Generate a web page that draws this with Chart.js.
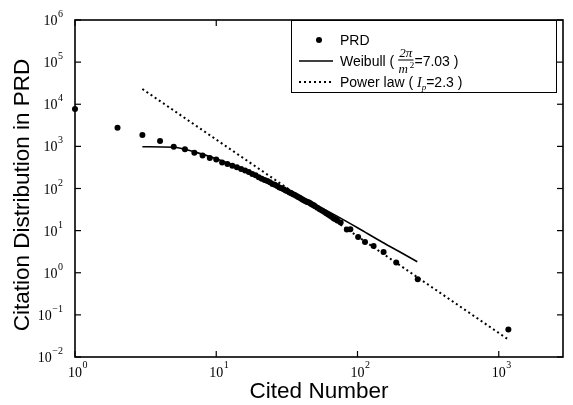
<!DOCTYPE html>
<html><head><meta charset="utf-8">
<script src="https://cdn.jsdelivr.net/npm/chart.js@4.4.1/dist/chart.umd.min.js"></script>
<style>html,body{margin:0;padding:0;background:#fff}canvas{display:block}</style>
</head><body>
<canvas id="c" width="573" height="405"></canvas>
<script>
// ---- data ----
const citedNumber = [1,2,3,4,5,6,7,8,9,10,11,12,13,14,15,16,17,18,19,20,21,22,23,24,25,26,27,28,29,30,31,32,33,34,35,36,37,38,39,40,41,42,43,44,45,46,47,48,49,50,52,54,56,58,60,62,64,66,68,70,72,76,84,89,101,113,130,153,188,267,1170];
const citationCount = [7700,2770,1850,1340,975,850,705,611,527,490,417,383,347,318,290,268,245,222,205,185,170,160,150,140,128,122,115,106,102,96,90,86,80,77,73,70,66,63,60,57,54,52,50,48,47,45,43,41,40,38,35,32,30,28,26,24,22.5,21,19.5,18.5,17.5,15.5,10.7,10.8,7.1,5.4,4.3,3.1,1.76,0.70,0.045];
const weibullX = [3,5,7,10,15,20,30,40,50,70,100,150,200,265];
const weibullY = [980,955,740,510,300,190,100,62,42,23,11.7,5.3,3.1,1.82];
const powerX = [3,1150];
const powerY = [23000,0.027];
const xTickValues = [1,10,100,1000];
const xTickExponents = ['0','1','2','3'];
const yTickValues = [1e-2,1e-1,1,10,100,1e3,1e4,1e5,1e6];
const yTickExponents = ['\u22122','\u22121','0','1','2','3','4','5','6'];
const xTitle = 'Cited Number';
const yTitle = 'Citation Distribution in PRD';
const seriesNames = ['PRD','Weibull','Power law'];

const toPts = (xs, ys) => xs.map((x, i) => ({x: x, y: ys[i]}));

const SERIF = '"Liberation Serif", "Times New Roman", serif';
const SANS = '"Liberation Sans", Arial, Helvetica, sans-serif';

const decor = {
  id: 'decor',
  afterDraw(chart) {
    const ctx = chart.ctx, a = chart.chartArea;
    const xs = chart.scales.x, ys = chart.scales.y;
    ctx.save();
    ctx.strokeStyle = '#000';
    ctx.fillStyle = '#000';
    ctx.lineWidth = 1.6;
    ctx.strokeRect(a.left, a.top, a.right - a.left, a.bottom - a.top);
    ctx.lineWidth = 1.2;
    const seg = (x1, y1, x2, y2) => { ctx.beginPath(); ctx.moveTo(x1, y1); ctx.lineTo(x2, y2); ctx.stroke(); };
    xTickValues.forEach(v => { const p = xs.getPixelForValue(v); seg(p, a.bottom, p, a.bottom - 6); seg(p, a.top, p, a.top + 6); });
    yTickValues.forEach(v => { const p = ys.getPixelForValue(v); seg(a.left, p, a.left + 6, p); seg(a.right, p, a.right - 6, p); });
    ctx.textBaseline = 'alphabetic';
    xTickValues.forEach((v, i) => {
      const p = xs.getPixelForValue(v);
      ctx.font = '14px ' + SERIF; ctx.textAlign = 'center';
      ctx.fillText('10', p, a.bottom + 20);
      const w = ctx.measureText('10').width;
      ctx.font = '10px ' + SERIF; ctx.textAlign = 'left';
      ctx.fillText(xTickExponents[i], p + w / 2 + 0.5, a.bottom + 11);
    });
    yTickValues.forEach((v, i) => {
      const p = ys.getPixelForValue(v);
      const right = a.left - 12;
      ctx.font = '10px ' + SERIF; ctx.textAlign = 'right';
      ctx.fillText(yTickExponents[i], right, p - 3);
      const we = ctx.measureText(yTickExponents[i]).width;
      ctx.font = '14px ' + SERIF;
      ctx.fillText('10', right - we - 0.5, p + 5);
    });
    ctx.font = '22.5px ' + SANS; ctx.textAlign = 'center'; ctx.textBaseline = 'middle';
    ctx.fillText(xTitle, (a.left + a.right) / 2, 392);
    ctx.save();
    ctx.translate(23, 195);
    ctx.rotate(-Math.PI / 2);
    ctx.fillText(yTitle, 0, 0);
    ctx.restore();
    // legend
    const bx = 291, by = a.top, bw = 265, bh = 72;
    ctx.fillStyle = '#fff';
    ctx.fillRect(bx, by, bw, bh);
    ctx.fillStyle = '#000';
    ctx.lineWidth = 1;
    ctx.strokeRect(bx + 0.5, by + 0.5, bw, bh);
    const r1 = 40, r2 = 61, r3 = 82, tx = 340;
    ctx.beginPath(); ctx.arc(319, r1, 3, 0, Math.PI * 2); ctx.fill();
    ctx.lineWidth = 1.5; seg(299, r2, 333, r2);
    ctx.setLineDash([2, 3]); ctx.lineWidth = 2; seg(299, r3, 333, r3); ctx.setLineDash([]);
    ctx.textAlign = 'left'; ctx.textBaseline = 'alphabetic';
    ctx.font = '14px ' + SANS;
    ctx.fillText(seriesNames[0], tx, r1 + 5);
    let x = tx;
    const t1 = seriesNames[1] + ' ( ';
    ctx.fillText(t1, x, r2 + 5); x += ctx.measureText(t1).width;
    ctx.font = 'italic 13px ' + SERIF;
    const num = '2\u03c0', den = 'm';
    const wn = ctx.measureText(num).width;
    const wd = ctx.measureText(den).width + 5;
    const fw = Math.max(wn, wd) + 1;
    ctx.textAlign = 'center';
    ctx.fillText(num, x + fw / 2, r2 - 4);
    ctx.fillText(den, x + fw / 2 - 2.5, r2 + 12);
    ctx.font = '9px ' + SERIF;
    ctx.fillText('2', x + fw / 2 + wd / 2 - 1, r2 + 7);
    ctx.lineWidth = 1; seg(x, r2 - 1, x + fw, r2 - 1);
    x += fw + 1;
    ctx.textAlign = 'left';
    ctx.font = '14px ' + SANS;
    ctx.fillText('=7.03 )', x, r2 + 5);
    x = tx;
    const t2 = seriesNames[2] + ' ( ';
    ctx.fillText(t2, x, r3 + 5); x += ctx.measureText(t2).width;
    ctx.font = 'italic 14px ' + SERIF;
    ctx.fillText('I', x, r3 + 5); x += ctx.measureText('I').width;
    ctx.font = 'italic 9px ' + SERIF;
    ctx.fillText('p', x, r3 + 8); x += ctx.measureText('p').width;
    ctx.font = '14px ' + SANS;
    ctx.fillText('=2.3 )', x, r3 + 5);
    ctx.restore();
  }
};

new Chart(document.getElementById('c'), {
  type: 'scatter',
  data: {
    datasets: [
      { label: seriesNames[0], data: toPts(citedNumber, citationCount), showLine: false,
        pointRadius: 3, pointHoverRadius: 3, pointBackgroundColor: '#000', pointBorderColor: '#000', pointBorderWidth: 0, clip: false, order: 1 },
      { label: seriesNames[1], data: toPts(weibullX, weibullY), showLine: true, pointRadius: 0,
        borderColor: '#000', borderWidth: 1.6, cubicInterpolationMode: 'monotone', order: 2 },
      { label: seriesNames[2], data: toPts(powerX, powerY), showLine: true, pointRadius: 0,
        borderColor: '#000', borderWidth: 2, borderDash: [2, 3], order: 3 }
    ]
  },
  options: {
    responsive: false,
    animation: false,
    devicePixelRatio: 1,
    layout: { padding: { left: 75, right: 10, top: 20, bottom: 48 } },
    plugins: { legend: { display: false }, tooltip: { enabled: false } },
    scales: {
      x: { type: 'logarithmic', min: 1, max: 2850,
        afterFit: s => { s.height = 0; },
        afterBuildTicks: s => { s.ticks = xTickValues.map(v => ({value: v})); },
        ticks: { display: false }, grid: { display: false }, border: { display: false } },
      y: { type: 'logarithmic', min: 0.01, max: 1e6,
        afterFit: s => { s.width = 0; },
        afterBuildTicks: s => { s.ticks = yTickValues.map(v => ({value: v})); },
        ticks: { display: false }, grid: { display: false }, border: { display: false } }
    }
  },
  plugins: [decor]
});
</script>
</body></html>
